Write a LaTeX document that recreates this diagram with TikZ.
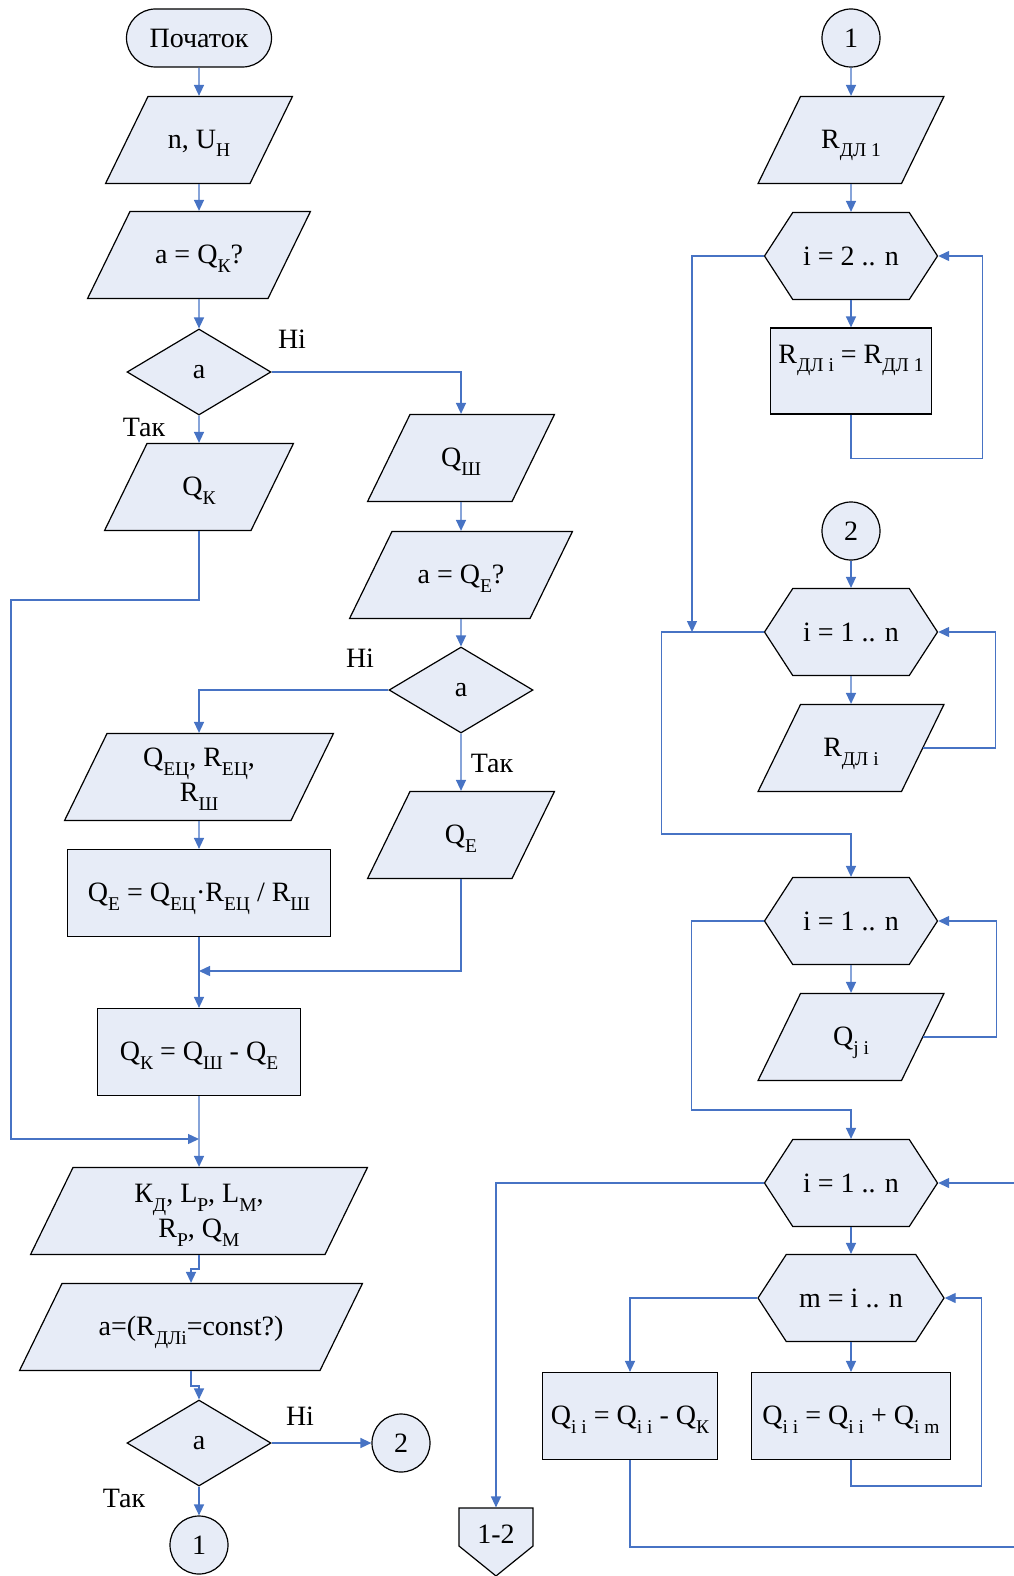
\documentclass[tikz,border=0pt]{standalone}
\usepackage{fontspec}
\setmainfont{Liberation Serif}
\usepackage{tikz}
\usetikzlibrary{positioning,shapes.geometric,shapes.symbols,arrows.meta}
\definecolor{boxfill}{RGB}{231,236,247}
\definecolor{lineblue}{RGB}{71,115,196}
\newcommand{\sbx}[1]{\raisebox{-8.5pt}{\fontsize{19.5}{20}\selectfont #1}}

\begin{document}
\begin{tikzpicture}[x=1pt, y=-1pt, font=\fontsize{28}{35}\selectfont,
    base/.style = {draw=black, fill=boxfill, line width=1.2pt, inner sep=2pt},
    term/.style = {base, rectangle, rounded corners=29pt, minimum width=145pt, minimum height=58pt},
    io/.style = {base, trapezium, trapezium left angle=64, trapezium right angle=116, inner sep=0pt, text height=52pt, text depth=35pt, align=flush center, text width=#1},
    proc/.style = {base, rectangle, inner ysep=0pt, text height=52pt, text depth=35pt},
    dec/.style = {base, diamond, minimum width=144pt, minimum height=86pt, inner sep=0pt},
    hexa/.style = {base, signal, signal to=west and east, signal pointer angle=114, minimum height=87pt, minimum width=#1},
    conn/.style = {base, circle, minimum size=58pt},
    offp/.style = {base, signal, signal to=south, signal pointer angle=102, inner sep=0pt, text width=74pt, align=flush center, text height=35pt, text depth=3pt},
    flow/.style = {draw=lineblue, line width=1.4pt, -{Triangle[length=11pt, width=10pt]}}]
\useasboundingbox (0,0) rectangle (1014,1576);

% left part
\node[term] (start) at (199,38) {Початок};
\node[io=102pt] (in1) at (199,140) {n, U\sbx{Н}};
\node[io=138pt] (in2) at (199,255) {a = Q\sbx{К}?};
\node[dec] (dec1) at (199,372) {a};
\node[io=104pt] (in3) at (199,487) {Q\sbx{К}};
\node[io=102pt] (in4) at (461,458) {Q\sbx{Ш}};
\node[io=138pt] (in5) at (461,575) {a = Q\sbx{Е}?};
\node[dec] (dec2) at (461,690) {a};
\node[io=102pt] (in6) at (461,835) {Q\sbx{Е}};
\node[io=184pt, text height=33pt, text depth=54pt] (in7) at (199,777) {Q\sbx{ЕЦ}, R\sbx{ЕЦ},\\R\sbx{Ш}};
\node[proc, minimum width=263pt] (proc1) at (199,893) {Q\sbx{Е} = Q\sbx{ЕЦ}·R\sbx{ЕЦ} / R\sbx{Ш}};
\coordinate (j3) at (199,971);
\node[proc, minimum width=203pt] (proc2) at (199,1052) {Q\sbx{К} = Q\sbx{Ш} - Q\sbx{Е}};
\coordinate (j2) at (199,1139);
\node[io=252pt, text height=35pt, text depth=52pt] (in8) at (199,1211) {К\sbx{Д}, L\sbx{Р}, L\sbx{М},\\R\sbx{Р}, Q\sbx{М}};
\node[io=258pt] (in9) at (191,1327) {a=(R\sbx{ДЛi}=const?)};
\node[dec] (dec3) at (199,1443) {a};
\node[conn] (c2) at (401,1443) {2};
\node[conn] (c1) at (199,1545) {1};

\node (no1) at (292,339) {Ні};
\node (yes1) at (144,427) {Так};
\node (no2) at (360,658) {Ні};
\node (yes2) at (492,763) {Так};
\node (no3) at (300,1416) {Ні};
\node (yes3) at (124,1498) {Так};

% right part
\node[conn] (c1r) at (851,38) {1};
\node[io=101pt] (in10) at (851,140) {R\sbx{ДЛ 1}};
\node[hexa=173pt] (loop1) at (851,256) {i = 2 .. n};
\node[proc, minimum width=161pt, text height=35pt, text depth=51pt] (proc3) at (851,371) {R\sbx{ДЛ i} = R\sbx{ДЛ 1}};
\node[conn] (c2r) at (851,531) {2};
\node[hexa=173pt] (loop2) at (851,632) {i = 1 .. n};
\coordinate (j1) at (692,632);
\node[io=101pt] (in11) at (851,748) {R\sbx{ДЛ i}};
\node[hexa=173pt] (loop3) at (851,921) {i = 1 .. n};
\node[io=101pt] (in12) at (851,1037) {Q\sbx{j i}};
\node[hexa=173pt] (loop4) at (851,1183) {i = 1 .. n};
\node[hexa=186pt] (loop5) at (851,1298) {m = i .. n};
\node[proc, minimum width=175pt] (proc4) at (630,1416) {Q\sbx{i i} = Q\sbx{i i} - Q\sbx{К}};
\node[proc, minimum width=199pt] (proc5) at (851,1416) {Q\sbx{i i} = Q\sbx{i i} + Q\sbx{i m}};
\node[offp] (off12) at (496,1527) {1-2};

\draw[flow] (start.south) -- (in1.north);
\draw[flow] (in1.south) -- (in2.north);
\draw[flow] (in2.south) -- (dec1.north);
\draw[flow] (dec1.south) -- (in3.north);
\draw[flow] (dec1.east) -| (in4.north);
\draw[flow] (in3.south) -- ++(0,69) -- ++(-188,0) |- (j2);
\draw[flow] (in4.south) -- (in5.north);
\draw[flow] (in5.south) -- (dec2.north);
\draw[flow] (dec2.west) -| (in7.north);
\draw[flow] (dec2.south) -- (in6.north);
\draw[flow] (in7.south) -- (proc1.north);
\draw[flow] (in6.south) |- (j3);
\draw[flow] (proc1.south) -- (proc2.north);
\draw[flow] (proc2.south) -- (in8.north);
\draw[flow] (in8.south) -- ++(0,14) -| (in9.north);
\draw[flow] (in9.south) -- ++(0,15) -| (dec3.north);
\draw[flow] (dec3.east) -- (c2.west);
\draw[flow] (dec3.south) -- (c1.north);

\draw[flow] (c1r.south) -- (in10.north);
\draw[flow] (in10.south) -- (loop1.north);
\draw[flow] (loop1.south) -- (proc3.north);
\draw[flow] (proc3.south) -- ++(0,44) -| ([xshift=44pt]loop1.east) -- (loop1.east);
\draw[flow] (loop1.west) -| (j1);
\draw[flow] (c2r.south) -- (loop2.north);
\draw[flow] (loop2.south) -- (in11.north);
\draw[flow] (in11.east) -| ([xshift=57pt]loop2.east) -- (loop2.east);
\draw[flow] (loop2.west) -- ++(-102,0) |- ([yshift=43pt]loop3.north) -- (loop3.north);
\draw[flow] (loop3.south) -- (in12.north);
\draw[flow] (in12.east) -| ([xshift=58pt]loop3.east) -- (loop3.east);
\draw[flow] (loop3.west) -- ++(-72,0) |- ([yshift=29pt]loop4.north) -- (loop4.north);
\draw[flow] (loop4.south) -- (loop5.north);
\draw[flow] (loop4.west) -| (off12.north);
\draw[flow] (loop5.south) -- (proc5.north);
\draw[flow] (loop5.west) -| (proc4.north);
\draw[flow] (proc5.south) -- ++(0,26) -| ([xshift=37pt]loop5.east) -- (loop5.east);
\draw[flow] (proc4.south) -- ++(0,87) -| ([xshift=100pt]loop4.east) -- (loop4.east);
\end{tikzpicture}
\end{document}
